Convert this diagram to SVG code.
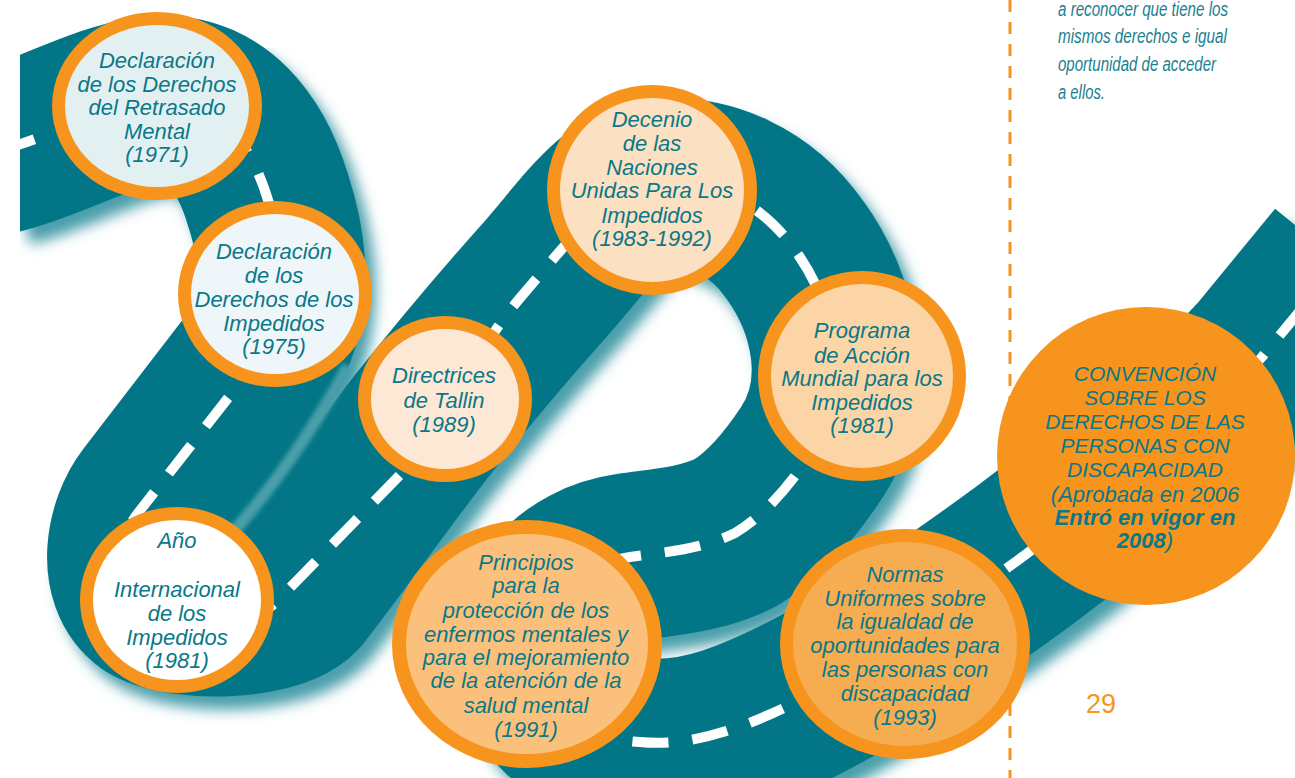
<svg xmlns="http://www.w3.org/2000/svg" width="1295" height="778" viewBox="0 0 1295 778">
<defs>
<style>
.lbl{font-family:"Liberation Sans",Arial,sans-serif;font-style:italic;font-size:22px;fill:#0a7888;text-anchor:middle}
.caps{font-size:21px}
.ring{fill:#f7941d}
.side{font-family:"Liberation Sans",Arial,sans-serif;font-style:italic;font-size:20px;fill:#1a8090}
</style>
<filter id="blur" x="-10%" y="-10%" width="120%" height="120%"><feGaussianBlur stdDeviation="7"/></filter>
<filter id="soft" x="-20%" y="-20%" width="140%" height="140%"><feGaussianBlur stdDeviation="2"/></filter>
<clipPath id="clip"><rect x="20" y="0" width="1275" height="778"/></clipPath>
<path id="road" d="M 0,150 C 60,135 110,100 165,100 C 215,100 250,140 268,200 C 287,258 290,320 250,370 L 150,500 C 130,526 120,578 150,600 C 185,620 275,615 297,592 C 330,550 380,480 420,428 C 460,378 500,330 543,282 C 585,235 615,185 660,182 C 710,180 760,200 795,250 C 835,305 855,390 810,455 C 790,485 765,515 735,533 C 700,550 665,552 630,557 C 505,575 505,735 640,742 C 700,748 760,720 800,700 C 870,665 950,610 1025,555 C 1110,490 1200,425 1262,357 L 1340,262"/>
<path id="lane" d="M 0,150 C 60,135 110,100 165,100 C 215,100 250,140 268,200 C 285,255 285,320 250,370 L 138,513 C 112,546 112,600 160,622 C 200,640 250,628 278,600 L 400,475 C 440,425 480,345 520,298 C 570,240 610,185 660,182 C 710,180 760,200 795,250 C 835,305 855,390 810,455 C 790,485 765,515 735,533 C 700,550 665,552 630,557 C 505,575 505,735 640,742 C 700,748 760,720 800,700 C 870,665 950,610 1025,555 C 1110,490 1200,425 1262,357 L 1340,262"/>
</defs>
<rect width="1295" height="778" fill="#ffffff"/>
<g id="guide-line">
<line x1="1010" y1="0" x2="1010" y2="778" stroke="#f7941d" stroke-width="3" stroke-dasharray="12 10"/>
</g>
<g id="connectors" clip-path="url(#clip)">
<use href="#road" fill="none" stroke="#4a9eaa" stroke-width="168" transform="translate(10,13)" filter="url(#blur)"/>
<use href="#road" fill="none" stroke="#027686" stroke-width="168" stroke-linejoin="round"/>
<path d="M 228,538 C 262,500 305,445 348,366" fill="none" stroke="#4a9eaa" stroke-width="12" filter="url(#soft)"/>
<use href="#lane" fill="none" stroke="#ffffff" stroke-width="10" stroke-dasharray="36 24"/>
</g>
<g id="side-text" class="side">
<text x="1058" y="16" textLength="170" lengthAdjust="spacingAndGlyphs">a reconocer que tiene los</text>
<text x="1058" y="43" textLength="169" lengthAdjust="spacingAndGlyphs">mismos derechos e igual</text>
<text x="1058" y="71" textLength="158" lengthAdjust="spacingAndGlyphs">oportunidad de acceder</text>
<text x="1058" y="99" textLength="47" lengthAdjust="spacingAndGlyphs">a ellos.</text>
</g>
<text id="page-number" x="1101" y="713" font-family="Liberation Sans, Arial, sans-serif" font-size="27" fill="#f7941d" text-anchor="middle">29</text>
<g id="n1">
<ellipse class="ring" cx="157" cy="106" rx="105" ry="94"/>
<ellipse cx="157" cy="106" rx="92" ry="81" fill="#e3f0f2"/>
<text class="lbl"><tspan x="157" y="68">Declaración</tspan><tspan x="157" y="92">de los Derechos</tspan><tspan x="157" y="115">del Retrasado</tspan><tspan x="157" y="139">Mental</tspan><tspan x="157" y="162">(1971)</tspan></text>
</g>
<g id="n2">
<ellipse class="ring" cx="275" cy="294" rx="97" ry="93"/>
<ellipse cx="275" cy="294" rx="84" ry="80" fill="#eff6f9"/>
<text class="lbl"><tspan x="274" y="259">Declaración</tspan><tspan x="274" y="283">de los</tspan><tspan x="274" y="307">Derechos de los</tspan><tspan x="274" y="331">Impedidos</tspan><tspan x="274" y="354">(1975)</tspan></text>
</g>
<g id="n3">
<ellipse class="ring" cx="445" cy="399" rx="87" ry="83"/>
<ellipse cx="445" cy="399" rx="74" ry="70" fill="#fde8d5"/>
<text class="lbl"><tspan x="444" y="383">Directrices</tspan><tspan x="444" y="408">de Tallin</tspan><tspan x="444" y="432">(1989)</tspan></text>
</g>
<g id="n4">
<ellipse class="ring" cx="652" cy="190" rx="105" ry="105"/>
<ellipse cx="652" cy="190" rx="92" ry="92" fill="#fce0c2"/>
<text class="lbl"><tspan x="652" y="127">Decenio</tspan><tspan x="652" y="151">de las</tspan><tspan x="652" y="175">Naciones</tspan><tspan x="652" y="198">Unidas Para Los</tspan><tspan x="652" y="223">Impedidos</tspan><tspan x="652" y="246">(1983-1992)</tspan></text>
</g>
<g id="n5">
<ellipse class="ring" cx="862" cy="376" rx="104" ry="105"/>
<ellipse cx="862" cy="376" rx="91" ry="92" fill="#fbd5a6"/>
<text class="lbl"><tspan x="862" y="338">Programa</tspan><tspan x="862" y="363">de Acción</tspan><tspan x="862" y="386">Mundial para los</tspan><tspan x="862" y="410">Impedidos</tspan><tspan x="862" y="433">(1981)</tspan></text>
</g>
<g id="n6">
<ellipse class="ring" cx="177" cy="600" rx="97" ry="93"/>
<ellipse cx="177" cy="600" rx="84" ry="80" fill="#ffffff"/>
<text class="lbl"><tspan x="177" y="548">Año</tspan><tspan x="177" y="597">Internacional</tspan><tspan x="177" y="621">de los</tspan><tspan x="177" y="645">Impedidos</tspan><tspan x="177" y="668">(1981)</tspan></text>
</g>
<g id="n7">
<ellipse class="ring" cx="527" cy="644" rx="135" ry="124"/>
<ellipse cx="527" cy="644" rx="121" ry="110" fill="#fbc17c"/>
<text class="lbl"><tspan x="526" y="570">Principios</tspan><tspan x="526" y="593">para la</tspan><tspan x="526" y="618">protección de los</tspan><tspan x="526" y="642">enfermos mentales y</tspan><tspan x="526" y="665">para el mejoramiento</tspan><tspan x="526" y="688">de la atención de la</tspan><tspan x="526" y="713">salud mental</tspan><tspan x="526" y="737">(1991)</tspan></text>
</g>
<g id="n8">
<ellipse class="ring" cx="905" cy="644" rx="125" ry="115"/>
<ellipse cx="905" cy="644" rx="112" ry="102" fill="#f6ad52"/>
<text class="lbl"><tspan x="905" y="582">Normas</tspan><tspan x="905" y="606">Uniformes sobre</tspan><tspan x="905" y="629">la igualdad de</tspan><tspan x="905" y="653">oportunidades para</tspan><tspan x="905" y="677">las personas con</tspan><tspan x="905" y="701">discapacidad</tspan><tspan x="905" y="725">(1993)</tspan></text>
</g>
<g id="n9">
<ellipse class="ring" cx="1146" cy="456" rx="149" ry="149"/>
<text class="lbl"><tspan class="caps" x="1145" y="381">CONVENCIÓN</tspan><tspan class="caps" x="1145" y="405">SOBRE LOS</tspan><tspan class="caps" x="1145" y="429">DERECHOS DE LAS</tspan><tspan class="caps" x="1145" y="453">PERSONAS CON</tspan><tspan class="caps" x="1145" y="477">DISCAPACIDAD</tspan><tspan x="1145" y="502">(Aprobada en 2006</tspan><tspan x="1145" y="525" font-weight="bold">Entró en vigor en</tspan><tspan x="1145" y="548"><tspan font-weight="bold">2008</tspan>)</tspan></text>
</g>
</svg>
